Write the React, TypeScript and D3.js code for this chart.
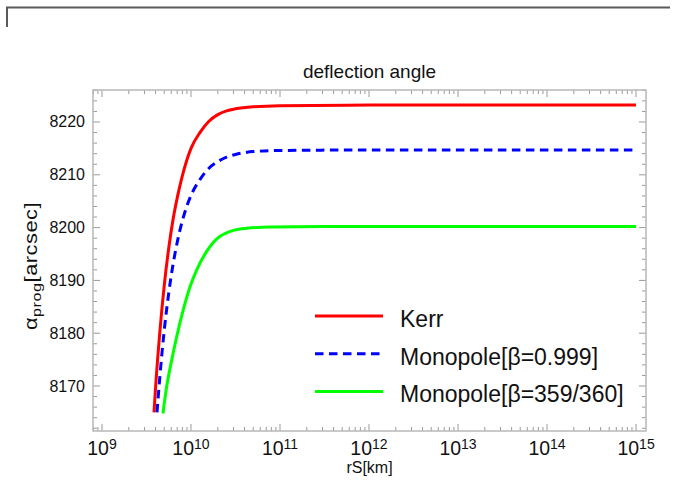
import React from "react";
import * as d3 from "d3";

// rS [km] and deflection angle [arcsec]
const kerrR = [3.84e9, 3.98e9, 4.47e9, 5.01e9, 5.62e9, 6.31e9, 7.08e9, 7.94e9, 8.91e9, 1e10, 1.26e10, 1.58e10, 2.0e10, 2.51e10, 3.16e10, 5.01e10, 1e11, 1e12, 1e13, 1e14, 1e15];
const kerrAlpha = [8165, 8169.2, 8180.3, 8189.1, 8196.1, 8201.7, 8206.0, 8209.6, 8212.6, 8215.0, 8218.0, 8220.1, 8221.4, 8222.1, 8222.5, 8222.9, 8223.1, 8223.2, 8223.2, 8223.2, 8223.2];

const mono999R = [4.15e9, 4.47e9, 5.01e9, 5.62e9, 6.31e9, 7.08e9, 7.94e9, 8.91e9, 1e10, 1.26e10, 1.58e10, 2.0e10, 2.51e10, 3.16e10, 5.01e10, 1e11, 1e12, 1e13, 1e14, 1e15];
const mono999Alpha = [8165, 8171.8, 8180.6, 8187.6, 8193.2, 8197.6, 8201.1, 8203.9, 8206.1, 8209.1, 8211.2, 8212.5, 8213.35, 8213.85, 8214.4, 8214.6, 8214.7, 8214.7, 8214.7, 8214.7];

const mono359R = [4.84e9, 5.33e9, 6.07e9, 6.9e9, 8.18e9, 9.75e9, 1.16e10, 1.5e10, 1.78e10, 2.14e10, 2.75e10, 4.27e10, 7.94e10, 3.16e11, 1e12, 1e13, 1e14, 1e15];
const mono359Alpha = [8164.8, 8169.9, 8174.9, 8179.3, 8184.4, 8188.8, 8192.0, 8195.5, 8197.2, 8198.4, 8199.3, 8199.9, 8200.1, 8200.2, 8200.2, 8200.2, 8200.2, 8200.2];

const yTickValues = [8170, 8180, 8190, 8200, 8210, 8220];
const xTickExponents = [9, 10, 11, 12, 13, 14, 15];
const legendLabels = ["Kerr", "Monopole[β=0.999]", "Monopole[β=359/360]"];

const W = 677;
const H = 487;
const left = 93, right = 646, top = 90, bottom = 431;
const font = "'Liberation Sans', Arial, sans-serif";

const x = d3.scaleLog().domain([Math.pow(10, 8.899), Math.pow(10, 15.112)]).range([left, right]);
const y = d3.scaleLinear().domain([8161.48, 8226.06]).range([bottom, top]);

const line = d3
  .line<[number, number]>()
  .x((d) => x(d[0]))
  .y((d) => y(d[1]))
  .curve(d3.curveMonotoneX);

const zip = (a: number[], b: number[]) => a.map((v, i) => [v, b[i]] as [number, number]);

const series = [
  { pts: zip(kerrR, kerrAlpha), color: "#ff0000", dash: undefined },
  { pts: zip(mono999R, mono999Alpha), color: "#0000ff", dash: "8.5 5.5" },
  { pts: zip(mono359R, mono359Alpha), color: "#00ff00", dash: undefined },
];

// minor ticks
const yMinor = d3.range(8162, 8227, 2).filter((v) => v % 10 !== 0);
const xMinor: number[] = [];
for (let e = 8; e <= 15; e++) {
  for (let m = 2; m <= 9; m++) {
    const v = m * Math.pow(10, e);
    if (x(v) > left && x(v) < right) xMinor.push(v);
  }
}

const tickColor = "#9a9a9a";

export default function App() {
  return (
    <div style={{ position: "absolute", left: 0, top: 0 }}>
      <svg width={W} height={H} style={{ display: "block", background: "#fff" }}>
        <path d="M7,27 V7.5 H670" fill="none" stroke="#5a5a5a" strokeWidth={2} />

        <text x={(left + right) / 2} y={78} textAnchor="middle" fontFamily={font} fontSize={19} fill="#111">
          deflection angle
        </text>

        {/* ticks */}
        <g stroke={tickColor} strokeWidth={1}>
          {yTickValues.map((v) => (
            <g key={"y" + v}>
              <line x1={left} x2={left + 7} y1={y(v)} y2={y(v)} />
              <line x1={right} x2={right - 7} y1={y(v)} y2={y(v)} />
            </g>
          ))}
          {yMinor.map((v) => (
            <g key={"ym" + v}>
              <line x1={left} x2={left + 4} y1={y(v)} y2={y(v)} />
              <line x1={right} x2={right - 4} y1={y(v)} y2={y(v)} />
            </g>
          ))}
          {xTickExponents.map((e) => (
            <g key={"x" + e}>
              <line x1={x(Math.pow(10, e))} x2={x(Math.pow(10, e))} y1={bottom} y2={bottom - 7} />
              <line x1={x(Math.pow(10, e))} x2={x(Math.pow(10, e))} y1={top} y2={top + 7} />
            </g>
          ))}
          {xMinor.map((v, i) => (
            <g key={"xm" + i}>
              <line x1={x(v)} x2={x(v)} y1={bottom} y2={bottom - 4} />
              <line x1={x(v)} x2={x(v)} y1={top} y2={top + 4} />
            </g>
          ))}
        </g>

        <rect x={left} y={top} width={right - left} height={bottom - top} fill="none" stroke="#b8b8b8" strokeWidth={1.5} />

        {/* y tick labels */}
        {yTickValues.map((v) => (
          <text key={"yl" + v} x={85} y={y(v) + 5.5} textAnchor="end" fontFamily={font} fontSize={16} fill="#111">
            {v}
          </text>
        ))}

        {/* x tick labels */}
        {xTickExponents.map((e) => (
          <text key={"xl" + e} x={x(Math.pow(10, e))} y={455} textAnchor="middle" fontFamily={font} fontSize={19.5} fill="#111">
            10
            <tspan fontSize={14} dy={-6}>
              {e}
            </tspan>
          </text>
        ))}

        <text x={(left + right) / 2} y={473} textAnchor="middle" fontFamily={font} fontSize={16} fill="#111">
          rS[km]
        </text>

        <text
          transform={`translate(37,266) rotate(-90) scale(1.25,1)`}
          textAnchor="middle"
          fontFamily={font}
          fontSize={17.5}
          letterSpacing={0.4}
          fill="#111"
        >
          α
          <tspan fontSize={13} dy={4}>
            prog
          </tspan>
          <tspan dy={-4}>[arcsec]</tspan>
        </text>

        {/* curves */}
        <g fill="none" strokeWidth={3}>
          {series.map((s, i) => (
            <path key={i} d={line(s.pts) || ""} stroke={s.color} strokeDasharray={s.dash} />
          ))}
        </g>

        {/* legend */}
        {series.map((s, i) => {
          const ly = 316 + i * 37.7;
          return (
            <g key={"lg" + i}>
              <line x1={315} x2={383} y1={ly} y2={ly} stroke={s.color} strokeWidth={3} strokeDasharray={s.dash} />
              <text x={400} y={ly + 11} fontFamily={font} fontSize={23} fill="#111">
                {legendLabels[i]}
              </text>
            </g>
          );
        })}
      </svg>
    </div>
  );
}
